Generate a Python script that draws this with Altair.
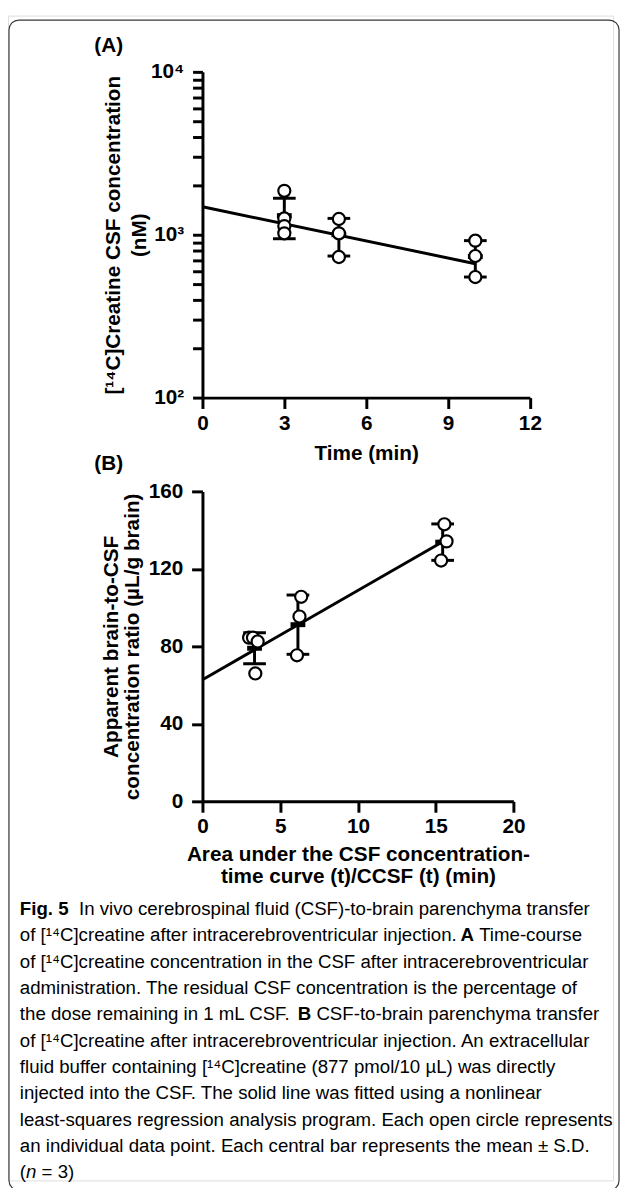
import altair as alt
import pandas as pd

# ---------------- Panel A data: [14C]creatine CSF concentration vs time ----------------
a_time = [3, 3, 3, 3, 5, 5, 5, 10, 10, 10]
a_conc = [1860, 1260, 1130, 1020, 1250, 1020, 730, 920, 740, 550]
a_bar_time = [3, 5, 10]
a_bar_mean = [1310, 1000, 735]
a_bar_sd = [365, 260, 185]
a_fit_time = [0, 10]
a_fit_conc = [1485, 664]
a_x_ticks = [0, 3, 6, 9, 12]
a_y_ticks = [100, 200, 300, 400, 500, 600, 700, 800, 900,
             1000, 2000, 3000, 4000, 5000, 6000, 7000, 8000, 9000, 10000]

# ---------------- Panel B data: brain-to-CSF ratio vs AUC/C ----------------
b_auc = [3.0, 3.25, 3.55, 3.4, 6.35, 6.24, 6.08, 15.56, 15.7, 15.35]
b_ratio = [84.5, 84.5, 82.5, 66.0, 105.6, 95.4, 75.4, 143.0, 134.2, 124.3]
b_bar_auc = [3.35, 6.14, 15.45]
b_bar_mean = [79.0, 91.2, 133.8]
b_bar_sd = [8.0, 15.3, 9.4]
b_fit_auc = [0, 15.45]
b_fit_ratio = [62.8, 134.0]
b_x_ticks = [0, 5, 10, 15, 20]
b_y_ticks = [0, 40, 80, 120, 160]

# caption: list of lines, each line a list of (text, style) runs
caption_lines = [
    [("Fig. 5", "bold"), ("  ", "normal"), ("In vivo cerebrospinal fluid (CSF)-to-brain parenchyma transfer", "normal")],
    [("of [¹⁴C]creatine after intracerebroventricular injection. ", "normal"), ("A", "bold"), (" Time-course", "normal")],
    [("of [¹⁴C]creatine concentration in the CSF after intracerebroventricular", "normal")],
    [("administration. The residual CSF concentration is the percentage of", "normal")],
    [("the dose remaining in 1 mL CSF. ", "normal"), ("B", "bold"), (" CSF-to-brain parenchyma transfer", "normal")],
    [("of [¹⁴C]creatine after intracerebroventricular injection. An extracellular", "normal")],
    [("fluid buffer containing [¹⁴C]creatine (877 pmol/10 µL) was directly", "normal")],
    [("injected into the CSF. The solid line was fitted using a nonlinear", "normal")],
    [("least-squares regression analysis program. Each open circle represents", "normal")],
    [("an individual data point. Each central bar represents the mean ± S.D.", "normal")],
    [("(", "normal"), ("n", "italic"), (" = 3)", "normal")],
]

chart_font = "Liberation Sans"
caption_font = "Liberation Sans"
caption_size = 18.9

# Arial / Liberation Sans advance widths (1/1000 em), used only to chain text runs
_REG = {' ': 278, '(': 333, ')': 333, '-': 333, '.': 278, '/': 278, ',': 278, '=': 584, '±': 584,
        'µ': 556, '¹': 333, '⁴': 333, '[': 278, ']': 278,
        'A': 667, 'B': 667, 'C': 722, 'D': 722, 'E': 667, 'F': 611, 'G': 778, 'H': 722, 'I': 278,
        'J': 500, 'K': 667, 'L': 556, 'M': 833, 'N': 722, 'O': 778, 'P': 667, 'Q': 778, 'R': 722,
        'S': 667, 'T': 611, 'U': 722, 'V': 667, 'W': 944, 'X': 667, 'Y': 667, 'Z': 611,
        'a': 556, 'b': 556, 'c': 500, 'd': 556, 'e': 556, 'f': 278, 'g': 556, 'h': 556, 'i': 222,
        'j': 222, 'k': 500, 'l': 222, 'm': 833, 'n': 556, 'o': 556, 'p': 556, 'q': 556, 'r': 333,
        's': 500, 't': 278, 'u': 556, 'v': 500, 'w': 722, 'x': 500, 'y': 500, 'z': 500}
_BOLD = {' ': 278, '.': 278, '5': 556, 'A': 722, 'B': 722, 'F': 611, 'i': 278, 'g': 611}


def text_width(s, size, style):
    table = _BOLD if style == "bold" else _REG
    return sum(table.get(ch, 556) for ch in s) * size / 1000.0


W, H = 613, 1180

dfA = pd.DataFrame({"t": a_time, "c": a_conc})
dfA_bar = pd.DataFrame({"t": a_bar_time, "m": a_bar_mean, "sd": a_bar_sd})
dfA_bar["lo"] = dfA_bar["m"] - dfA_bar["sd"]
dfA_bar["hi"] = dfA_bar["m"] + dfA_bar["sd"]
dfA_fit = pd.DataFrame({"t": a_fit_time, "c": a_fit_conc})

dfB = pd.DataFrame({"x": b_auc, "r": b_ratio})
dfB_bar = pd.DataFrame({"x": b_bar_auc, "m": b_bar_mean, "sd": b_bar_sd})
dfB_bar["lo"] = dfB_bar["m"] - dfB_bar["sd"]
dfB_bar["hi"] = dfB_bar["m"] + dfB_bar["sd"]
dfB_fit = pd.DataFrame({"x": b_fit_auc, "r": b_fit_ratio})

# scales placed at their pixel positions within the single canvas
xA = alt.Scale(domain=[0, 12], range=[197, 528.7], nice=False, zero=False)
yA = alt.Scale(type="log", domain=[100, 10000], range=[387, 57], nice=False)
xB = alt.Scale(domain=[0, 20], range=[197, 512], nice=False, zero=False)
yB = alt.Scale(domain=[0, 160], range=[796, 482], nice=False, zero=False)

common_axis = dict(
    grid=False, domainColor="black", tickColor="black", domainWidth=3, tickWidth=3,
    labelFont=chart_font, labelFontSize=21, labelFontWeight="bold", labelColor="black",
    titleFont=chart_font, titleFontSize=21, titleFontWeight="bold", titleColor="black",
    labelOverlap=False, labelFlush=False, titleBaseline="middle",
)

axisAx = alt.Axis(orient="bottom", offset=-(H - 387), values=a_x_ticks, tickSize=11,
                  labelPadding=4, title="Time (min)", titleY=57, **common_axis)
axisAy = alt.Axis(orient="left", offset=-197, values=a_y_ticks, tickSize=10,
                  labelPadding=9, title=["[¹⁴C]Creatine CSF concentration", "(nM)"],
                  labelExpr="datum.value == 100 ? '10²' : datum.value == 1000 ? '10³' : datum.value == 10000 ? '10⁴' : ''",
                  titleX=-90, titleAngle=270, titleLineHeight=26, **common_axis)
axisBx = alt.Axis(orient="bottom", offset=-(H - 796), values=b_x_ticks, tickSize=11,
                  labelPadding=4,
                  title=["Area under the CSF concentration-", "time curve (t)/CCSF (t)  (min)"],
                  titleY=54, titleLineHeight=22, **common_axis)
axisBy = alt.Axis(orient="left", offset=-197, values=b_y_ticks, tickSize=11,
                  labelPadding=9, title=["Apparent brain-to-CSF", "concentration ratio (µL/g brain)"],
                  titleX=-92, titleAngle=270, titleLineHeight=21, **common_axis)

# ---------- panel A layers ----------
A_line = alt.Chart(dfA_fit).mark_line(color="black", strokeWidth=3).encode(
    x=alt.X("t:Q", scale=xA, axis=axisAx), y=alt.Y("c:Q", scale=yA, axis=axisAy))
A_rule = alt.Chart(dfA_bar).mark_rule(color="black", strokeWidth=3).encode(
    x=alt.X("t:Q", scale=xA, axis=None), y=alt.Y("lo:Q", scale=yA, axis=None), y2="hi:Q")
A_cap_lo = alt.Chart(dfA_bar).mark_tick(orient="horizontal", size=23, thickness=3, color="black", opacity=1).encode(
    x=alt.X("t:Q", scale=xA, axis=None), y=alt.Y("lo:Q", scale=yA, axis=None))
A_cap_hi = alt.Chart(dfA_bar).mark_tick(orient="horizontal", size=23, thickness=3, color="black", opacity=1).encode(
    x=alt.X("t:Q", scale=xA, axis=None), y=alt.Y("hi:Q", scale=yA, axis=None))
A_mean = alt.Chart(dfA_bar).mark_tick(orient="horizontal", size=15, thickness=5, color="black", opacity=1).encode(
    x=alt.X("t:Q", scale=xA, axis=None), y=alt.Y("m:Q", scale=yA, axis=None))
A_pts = alt.Chart(dfA).mark_point(shape="circle", size=150, filled=True, fill="white",
                                  stroke="black", strokeWidth=2.2, opacity=1).encode(
    x=alt.X("t:Q", scale=xA, axis=None), y=alt.Y("c:Q", scale=yA, axis=None))

# ---------- panel B layers ----------
B_line = alt.Chart(dfB_fit).mark_line(color="black", strokeWidth=3).encode(
    x=alt.X("x:Q", scale=xB, axis=axisBx), y=alt.Y("r:Q", scale=yB, axis=axisBy))
B_rule = alt.Chart(dfB_bar).mark_rule(color="black", strokeWidth=3).encode(
    x=alt.X("x:Q", scale=xB, axis=None), y=alt.Y("lo:Q", scale=yB, axis=None), y2="hi:Q")
B_cap_lo = alt.Chart(dfB_bar).mark_tick(orient="horizontal", size=23, thickness=3, color="black", opacity=1).encode(
    x=alt.X("x:Q", scale=xB, axis=None), y=alt.Y("lo:Q", scale=yB, axis=None))
B_cap_hi = alt.Chart(dfB_bar).mark_tick(orient="horizontal", size=23, thickness=3, color="black", opacity=1).encode(
    x=alt.X("x:Q", scale=xB, axis=None), y=alt.Y("hi:Q", scale=yB, axis=None))
B_mean = alt.Chart(dfB_bar).mark_tick(orient="horizontal", size=15, thickness=5, color="black", opacity=1).encode(
    x=alt.X("x:Q", scale=xB, axis=None), y=alt.Y("m:Q", scale=yB, axis=None))
B_pts = alt.Chart(dfB).mark_point(shape="circle", size=150, filled=True, fill="white",
                                  stroke="black", strokeWidth=2.2, opacity=1).encode(
    x=alt.X("x:Q", scale=xB, axis=None), y=alt.Y("r:Q", scale=yB, axis=None))

dummy = pd.DataFrame({"d": [0]})


def txt(text, x, y, font=caption_font, size=caption_size, weight="normal", style="normal", align="left"):
    return alt.Chart(dummy).mark_text(text=text, font=font, fontSize=size, fontWeight=weight,
                                      fontStyle=style, align=align, baseline="middle",
                                      color="black").encode(x=alt.value(x), y=alt.value(y))


labels = [
    txt("(A)", 102, 31, font=chart_font, size=21, weight="bold", align="center"),
    txt("(B)", 102, 454, font=chart_font, size=21, weight="bold", align="center"),
]

y0, dy, x0 = 905, 26.7, 12
cap = []
for i, runs in enumerate(caption_lines):
    cx = x0
    for s, st in runs:
        lead = len(s) - len(s.lstrip(" "))
        cx += text_width(s[:lead], caption_size, st)
        body = s[lead:]
        if body.strip():
            cap.append(txt(body.rstrip(" "), cx, y0 + i * dy,
                           weight="bold" if st == "bold" else "normal",
                           style="italic" if st == "italic" else "normal"))
        cx += text_width(body, caption_size, st)

border = alt.Chart(dummy).mark_rect(filled=False, stroke="#3a3a3a", strokeWidth=1.2,
                                    cornerRadius=10).encode(
    x=alt.value(1), x2=alt.value(619), y=alt.value(4.5), y2=alt.value(1190))

chart = alt.layer(
    border,
    A_line, A_rule, A_cap_lo, A_cap_hi, A_mean, A_pts,
    B_line, B_rule, B_cap_lo, B_cap_hi, B_mean, B_pts,
    *labels, *cap,
).resolve_scale(x="independent", y="independent").properties(
    width=W, height=H,
    autosize=alt.AutoSizeParams(type="none"),
    padding={"left": 0, "top": 0, "right": 8, "bottom": 0},
).configure_view(stroke=None).configure(background="white")

chart.save("out.html", embed_options={"renderer": "svg", "actions": False})
